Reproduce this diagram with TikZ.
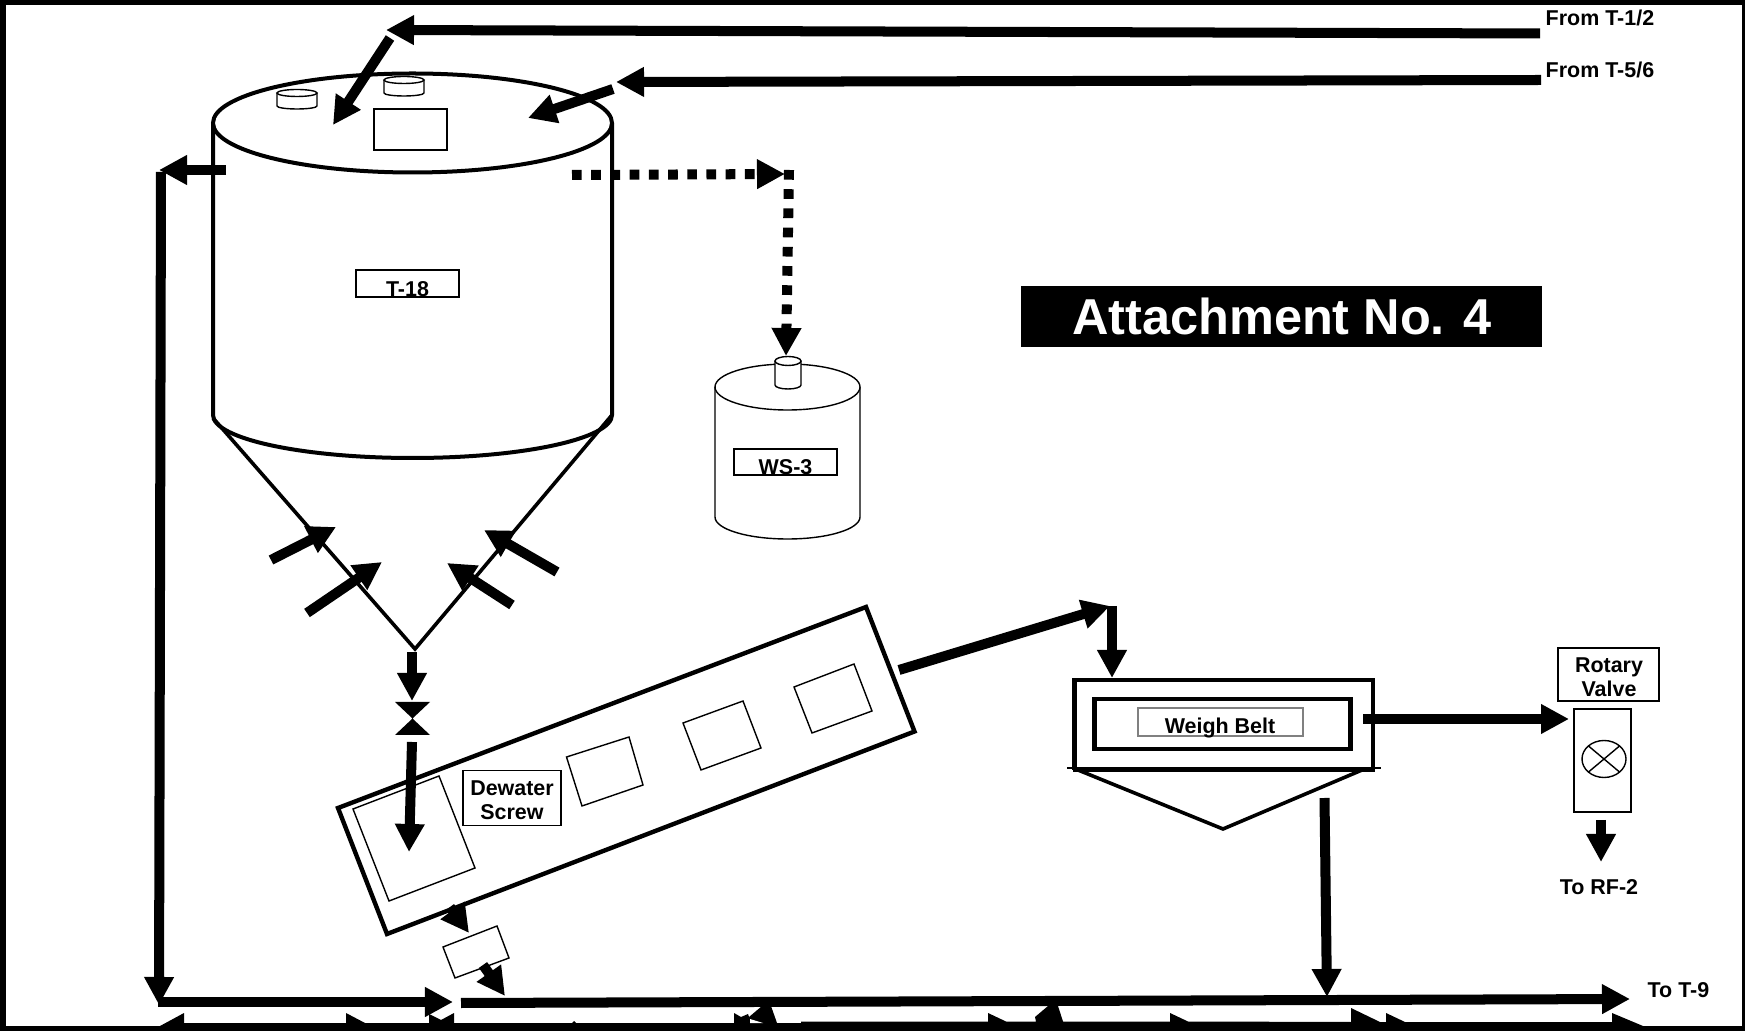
\documentclass[tikz,border=0pt]{standalone}
\usepackage{fontspec}
\setmainfont{Liberation Sans}
\usetikzlibrary{arrows.meta}
\tikzset{
  flow/.style={
    ->,
    line width = 0.1cm
  },
  dotflow/.style={
    flow,
    dash pattern = on 0.097cm off 0.095cm
  },
  wall/.style={
    line width = 0.04cm
  },
  cone/.style={
    line width = 0.036cm
  },
  fineline/.style={
    line width = 0.014cm
  },
  tag/.style={
    shape = rectangle,
    draw,
    fill = white,
    line width = 0.012cm,
    inner sep = 0pt
  },
  txt/.style={
    anchor = base,
    font = \bfseries\fontsize{6.1}{6.8}\selectfont,
    inner sep = 0pt,
    align = center
  },
  >={Triangle[length=0.28cm,width=0.28cm]}
}
\begin{document}
\begin{tikzpicture}[x=0.01cm,y=-0.01cm]
        \useasboundingbox (0,0) rectangle (1745,1031);
        % frame, with the heads cut off along the lower edge
        \fill (0,0) rectangle (1745,5.5);
        \fill (0,0) rectangle (6,1031);
        \fill (1742,0) rectangle (1745,1031);
        \fill (0,1031) -- (0,1026) -- (160,1026) -- (184,1013) -- (184,1023) -- (346,1023) -- (346,1013) -- (365,1023)
          -- (429,1023) -- (429,1014) -- (441,1020) -- (454,1013) -- (454,1023) -- (572,1023) -- (574,1021) -- (576,1023)
          -- (734,1023) -- (734,1013) -- (741,1017) -- (748,1014) -- (749,1017) -- (762,1006) -- (771,1006) -- (777,1023)
          -- (801,1023) -- (801,1021.5)
          -- (988,1021.5) -- (988,1013) -- (1006,1021.5) -- (1036,1021.5) -- (1035,1017) -- (1048,1006) -- (1058,1006) -- (1063,1021.5)
          -- (1170,1021.5) -- (1170,1013) -- (1188,1021.5) -- (1351,1022) -- (1351,1008) -- (1380,1022)
          -- (1386,1022) -- (1386,1013) -- (1405,1022) -- (1612,1022) -- (1612,1013) -- (1643,1026) -- (1745,1026) -- (1745,1031) -- cycle;
        \fill[white] (750,1019) -- (763,1023) -- (750,1023) -- cycle;

        % T-18
        \draw[wall, fill=white] (213,123) -- (213,415) arc[start angle=180, end angle=0, x radius=199.5, y radius=43] -- (612,123);
        \draw[wall, fill=white] (412.5,123) ellipse[x radius=199.5, y radius=49.5];
        \draw[cone] (213,418) -- (415,649) -- (612,415);
        \draw[fineline, fill=white] (277,93) -- (277,106) arc[start angle=180, end angle=0, x radius=20, y radius=3] -- (317,93);
        \draw[fineline, fill=white] (297,93) ellipse[x radius=20, y radius=3.5];
        \draw[fineline, fill=white] (384,80) -- (384,93) arc[start angle=180, end angle=0, x radius=20, y radius=3] -- (424,80);
        \draw[fineline, fill=white] (404,80) ellipse[x radius=20, y radius=3.5];
        \node[tag, minimum width=0.73cm, minimum height=0.41cm] (hatch) at (410.5,129.5) {};
        \node[tag, minimum width=1.03cm, minimum height=0.27cm] (t18tag) at (407.5,283.5) {};
        \node[txt] (t18) at (407.5,296.5) {T-18};

        % WS-3
        \draw[fineline, fill=white] (715,387) -- (715,517) arc[start angle=180, end angle=0, x radius=72.5, y radius=22] -- (860,387);
        \draw[fineline, fill=white] (787.5,387) ellipse[x radius=72.5, y radius=23];
        \draw[fineline, fill=white] (775,361) -- (775,385) arc[start angle=180, end angle=0, x radius=13, y radius=4] -- (801,361);
        \draw[fineline, fill=white] (788,361) ellipse[x radius=13, y radius=4.5];
        \node[tag, minimum width=1.03cm, minimum height=0.26cm] (wstag) at (785.5,462) {};
        \node[txt] (ws3) at (785.5,474.5) {WS-3};

        % valve below the cone
        \fill (395,702) -- (430,702) -- (395,735) -- (430,735) -- cycle;

        % Dewater Screw
        \draw[line width=0.044cm, fill=white] (338,808) -- (866,607) -- (914.5,731.5) -- (387,934) -- cycle;
        \draw[fineline] (353,809) -- (439,776) -- (475,868) -- (389,901) -- cycle;
        \draw[fineline] (566.5,757) -- (629,737) -- (643,785) -- (582,806) -- cycle;
        \draw[fineline] (683,723) -- (743,701) -- (761,748) -- (701,770) -- cycle;
        \draw[fineline] (794,687) -- (854,664) -- (872,711) -- (812,733) -- cycle;
        \draw[fineline] (443,947) -- (497,926) -- (509,958) -- (455,978) -- cycle;
        \node[tag, minimum width=0.98cm, minimum height=0.55cm] (dewatertag) at (512,798) {};
        \node[txt] (dewater) at (512,796) {Dewater};
        \node[txt] (screw) at (512,820) {Screw};

        % Weigh Belt
        \draw[line width=0.045cm] (1074.5,770) -- (1074.5,680) -- (1373,680) -- (1373,770);
        \draw[line width=0.05cm] (1073,770) -- (1375,770);
        \draw[fineline] (1067,768) -- (1381,768);
        \draw[line width=0.036cm] (1078,770) -- (1223,829) -- (1362,770);
        \draw[line width=0.045cm] (1094.7,699) rectangle (1350.6,749);
        \node[tag, draw=gray, minimum width=1.65cm, minimum height=0.28cm] (belttag) at (1220.5,722) {};
        \node[txt] (belt) at (1220,734) {Weigh Belt};

        % Rotary Valve
        \node[tag, minimum width=1.01cm, minimum height=0.53cm] (rotarytag) at (1608.5,674.5) {};
        \node[txt] (rotary) at (1609,672.5) {Rotary};
        \node[txt] (valve) at (1609,696.5) {Valve};
        \node[tag, minimum width=0.57cm, minimum height=1.03cm] (rotarybox) at (1602.5,760.5) {};
        \draw[fineline] (1604,759) ellipse[x radius=22, y radius=18.5];
        \draw[fineline] (1588.5,746) -- (1619.5,772);
        \draw[fineline] (1588.5,772) -- (1619.5,746);

        % ends of the lines
        \coordinate (fromA) at (1540,33.5);
        \coordinate (fromAtip) at (386,30);
        \coordinate (topA) at (390,38);
        \coordinate (topAtip) at (333,125);
        \coordinate (fromB) at (1541,80);
        \coordinate (fromBtip) at (616,82);
        \coordinate (topB) at (613,89);
        \coordinate (topBtip) at (528,118);
        \coordinate (overflow) at (226,170);
        \coordinate (overflowtip) at (159,170);
        \coordinate (ret) at (161,172);
        \coordinate (rettip) at (159,1005);
        \coordinate (retrun) at (158,1002);
        \coordinate (retruntip) at (453,1002);
        \coordinate (vent) at (572,175);
        \coordinate (venttip) at (785,174);
        \coordinate (ventdown) at (789,170);
        \coordinate (ventdowntip) at (786,356);
        \coordinate (coneA) at (271,560);
        \coordinate (coneAtip) at (336,527);
        \coordinate (coneB) at (307,613);
        \coordinate (coneBtip) at (382,562);
        \coordinate (coneC) at (557,572);
        \coordinate (coneCtip) at (484,530);
        \coordinate (coneD) at (512,605);
        \coordinate (coneDtip) at (447,563);
        \coordinate (apex) at (412,652);
        \coordinate (apextip) at (412,701);
        \coordinate (feed) at (412,742);
        \coordinate (feedtip) at (409,852);
        \coordinate (drop) at (450,907);
        \coordinate (droptip) at (469,933);
        \coordinate (dropb) at (483,965);
        \coordinate (dropbtip) at (505,996);
        \coordinate (screwout) at (899,670);
        \coordinate (screwouttip) at (1110,606);
        \coordinate (beltin) at (1112,606);
        \coordinate (beltintip) at (1112,678);
        \coordinate (beltout) at (1363,719);
        \coordinate (beltouttip) at (1569,719);
        \coordinate (rotaryout) at (1601,820);
        \coordinate (rotaryouttip) at (1601,862);
        \coordinate (hopper) at (1324.5,798);
        \coordinate (hoppertip) at (1327,997);
        \coordinate (main) at (461,1003);
        \coordinate (maintip) at (1630,999);

        \draw[flow] (fromA) -- (fromAtip);
        \draw[flow] (topA) -- (topAtip);
        \draw[flow] (fromB) -- (fromBtip);
        \draw[flow] (topB) -- (topBtip);
        \draw[flow] (overflow) -- (overflowtip);
        \draw[flow] (ret) -- (rettip);
        \draw[flow] (retrun) -- (retruntip);
        \draw[dotflow] (vent) -- (venttip);
        \draw[dotflow] (ventdown) -- (ventdowntip);
        \draw[flow] (coneA) -- (coneAtip);
        \draw[flow] (coneB) -- (coneBtip);
        \draw[flow] (coneC) -- (coneCtip);
        \draw[flow] (coneD) -- (coneDtip);
        \draw[flow] (apex) -- (apextip);
        \draw[flow] (feed) -- (feedtip);
        \draw[flow] (drop) -- (droptip);
        \draw[flow] (dropb) -- (dropbtip);
        \draw[flow] (screwout) -- (screwouttip);
        \draw[flow] (beltin) -- (beltintip);
        \draw[flow] (beltout) -- (beltouttip);
        \draw[flow] (rotaryout) -- (rotaryouttip);
        \draw[flow] (hopper) -- (hoppertip);
        \draw[flow] (main) -- (maintip);

        \node[txt, anchor=base west] (fromtone) at (1545,25.5) {From T-1/2};
        \node[txt, anchor=base west] (fromtfive) at (1545,77.5) {From T-5/6};
        \node[txt, anchor=base west] (totnine) at (1647,997) {To T-9};
        \node[txt] (torf) at (1599,894) {To RF-2};
        \node[shape=rectangle, fill, minimum width=5.21cm, minimum height=0.61cm, inner sep=0pt] (attachbox) at (1281.5,316.5) {};
        \node[txt, text=white, font=\bfseries\fontsize{14.35}{16}\selectfont] (attach) at (1282,335) {Attachment No. 4};
    \end{tikzpicture}
\end{document}
